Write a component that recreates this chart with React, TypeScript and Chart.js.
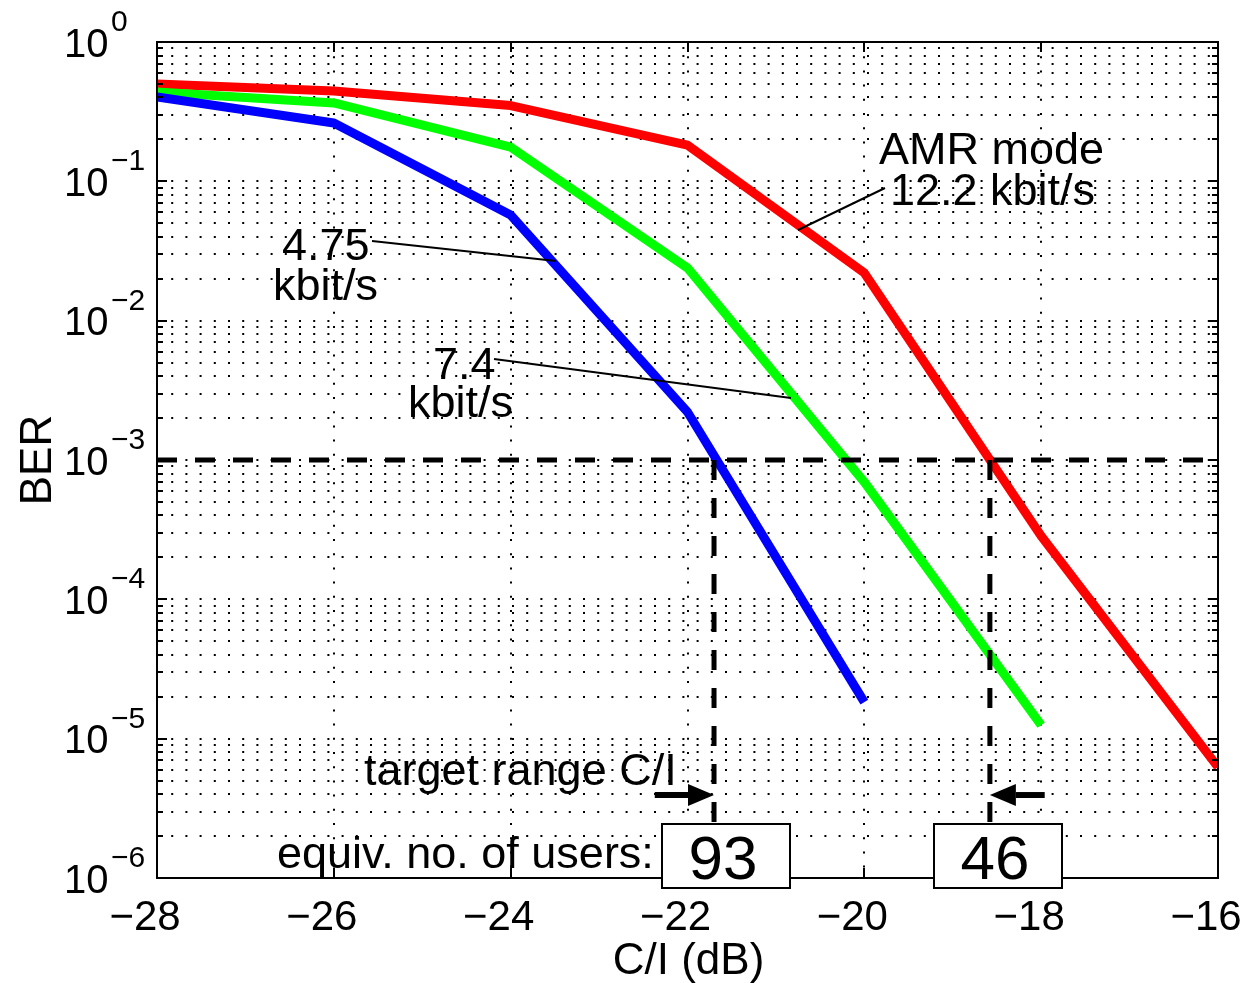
import React, { useEffect, useRef } from 'react';
import { Chart, registerables } from 'chart.js';

Chart.register(...registerables);

const FONT = '"Liberation Sans", Arial, Helvetica, sans-serif';

// ---- axes ----
const xTickValues = [-28, -26, -24, -22, -20, -18, -16];
const xTickLabels = ['−28', '−26', '−24', '−22', '−20', '−18', '−16'];
const yDecadeValues = [1, 1e-1, 1e-2, 1e-3, 1e-4, 1e-5, 1e-6];
const yTickExponents = ['0', '−1', '−2', '−3', '−4', '−5', '−6'];
const yMinorMultipliers = [2, 3, 4, 5, 6, 7, 8, 9];
const xTitle = 'C/I (dB)';
const yTitle = 'BER';

// ---- series (C/I in dB, BER) ----
const ci122 = [-28, -26, -24, -22, -20, -18, -16];
const ber122 = [0.5, 0.445, 0.35, 0.182, 0.022, 2.85e-4, 6.25e-6];
const ci74 = [-28, -26, -24, -22, -20, -18];
const ber74 = [0.438, 0.365, 0.176, 0.0239, 6.95e-4, 1.25e-5];
const ci475 = [-28, -26, -24, -22, -20];
const ber475 = [0.403, 0.262, 0.0573, 2.21e-3, 1.83e-5];

// ---- target markers ----
const targetBER = 1e-3;
const targetCI = [-21.7, -18.58];
const arrowTailCI = [-22.37, -17.96];
const arrowBER = 3.94e-6;
const usersLabels = ['93', '46'];
const usersBoxCI = [
  [-22.29, -20.84],
  [-19.21, -17.77],
];
const usersBoxBER = [2.44e-6, 8.5e-7];

const toXY = (xs: number[], ys: number[]) => xs.map((x, i) => ({ x, y: ys[i] }));

const overlayPlugin = {
  id: 'overlay',
  beforeDatasetsDraw(chart: any) {
    const { ctx, chartArea: a, scales } = chart;
    const xs = scales.x;
    const ys = scales.y;
    ctx.save();
    ctx.strokeStyle = '#000';
    ctx.lineWidth = 2;
    ctx.lineCap = 'butt';
    ctx.setLineDash([2, 12.2]);
    const gridVals: number[] = [];
    for (let i = 0; i < yDecadeValues.length; i++) {
      const d = yDecadeValues[i];
      gridVals.push(d);
      if (d < 1) yMinorMultipliers.forEach((m) => gridVals.push(d * m));
    }
    gridVals.forEach((v) => {
      const py = Math.round(ys.getPixelForValue(v));
      if (py <= a.top + 1 || py >= a.bottom - 1) return;
      ctx.beginPath();
      ctx.moveTo(a.left, py);
      ctx.lineTo(a.right, py);
      ctx.stroke();
    });
    xTickValues.forEach((v) => {
      const px = Math.round(xs.getPixelForValue(v));
      if (px <= a.left + 1 || px >= a.right - 1) return;
      ctx.beginPath();
      ctx.moveTo(px, a.top);
      ctx.lineTo(px, a.bottom);
      ctx.stroke();
    });
    ctx.restore();
  },
  afterDatasetsDraw(chart: any) {
    const { ctx, chartArea: a, scales } = chart;
    const xs = scales.x;
    const ys = scales.y;
    ctx.save();
    ctx.setLineDash([]);
    ctx.strokeStyle = '#000';
    ctx.fillStyle = '#000';

    // axis box
    ctx.lineWidth = 2;
    ctx.strokeRect(Math.round(a.left), Math.round(a.top), Math.round(a.right - a.left), Math.round(a.bottom - a.top));

    // tick marks
    const majorLen = 10;
    const minorLen = 6;
    ctx.beginPath();
    xTickValues.forEach((v) => {
      const px = Math.round(xs.getPixelForValue(v));
      ctx.moveTo(px, a.bottom);
      ctx.lineTo(px, a.bottom - majorLen);
      ctx.moveTo(px, a.top);
      ctx.lineTo(px, a.top + majorLen);
    });
    yDecadeValues.forEach((d) => {
      const py = Math.round(ys.getPixelForValue(d));
      ctx.moveTo(a.left, py);
      ctx.lineTo(a.left + majorLen, py);
      ctx.moveTo(a.right, py);
      ctx.lineTo(a.right - majorLen, py);
      if (d < 1) {
        yMinorMultipliers.forEach((m) => {
          const pm = Math.round(ys.getPixelForValue(d * m));
          ctx.moveTo(a.left, pm);
          ctx.lineTo(a.left + minorLen, pm);
          ctx.moveTo(a.right, pm);
          ctx.lineTo(a.right - minorLen, pm);
        });
      }
    });
    ctx.stroke();

    // x tick labels
    ctx.font = `42px ${FONT}`;
    ctx.textAlign = 'center';
    ctx.textBaseline = 'alphabetic';
    xTickValues.forEach((v, i) => {
      const px = xs.getPixelForValue(v);
      ctx.fillText(xTickLabels[i], px - 12, a.bottom + 52);
    });

    // y tick labels: 10^exp
    yDecadeValues.forEach((d, i) => {
      const py = ys.getPixelForValue(d);
      ctx.textAlign = 'left';
      ctx.font = `40px ${FONT}`;
      ctx.fillText('10', a.left - 93, py + 14.5);
      ctx.font = `30px ${FONT}`;
      ctx.fillText(yTickExponents[i], a.left - 46, py - 11);
    });

    // axis titles
    ctx.font = `44px ${FONT}`;
    ctx.textAlign = 'center';
    ctx.fillText(xTitle, (a.left + a.right) / 2 + 1, a.bottom + 96);
    ctx.save();
    ctx.translate(a.left - 106, (a.top + a.bottom) / 2);
    ctx.rotate(-Math.PI / 2);
    ctx.fillText(yTitle, 0, 0);
    ctx.restore();

    // curve labels and leader lines
    ctx.textAlign = 'left';
    ctx.font = `45px ${FONT}`;
    ctx.fillText('AMR mode', 879, 164);
    ctx.fillText('12.2 kbit/s', 890, 205);
    ctx.fillText('4.75', 282, 260);
    ctx.fillText('kbit/s', 273, 300);
    ctx.fillText('7.4', 433, 379);
    ctx.fillText('kbit/s', 408, 417);
    ctx.lineWidth = 2;
    ctx.beginPath();
    ctx.moveTo(885, 188);
    ctx.lineTo(798, 230);
    ctx.moveTo(372, 241);
    ctx.lineTo(556, 261);
    ctx.moveTo(494, 359);
    ctx.lineTo(791, 398);
    ctx.stroke();

    // target range text
    ctx.fillText('target range C/I', 364, 785);
    ctx.fillText('equiv. no. of users:', 277, 868);

    // arrows
    const ay = ys.getPixelForValue(arrowBER);
    targetCI.forEach((tc, i) => {
      const tip = xs.getPixelForValue(tc);
      const tail = xs.getPixelForValue(arrowTailCI[i]);
      const dir = tip > tail ? 1 : -1;
      const headLen = 26;
      const base = tip - dir * headLen;
      ctx.lineWidth = 6;
      ctx.beginPath();
      ctx.moveTo(tail, ay);
      ctx.lineTo(base, ay);
      ctx.stroke();
      ctx.beginPath();
      ctx.moveTo(tip, ay);
      ctx.lineTo(base, ay - 11);
      ctx.lineTo(base, ay + 11);
      ctx.closePath();
      ctx.fill();
    });

    // user count boxes
    usersLabels.forEach((lab, i) => {
      const x0 = Math.round(xs.getPixelForValue(usersBoxCI[i][0]));
      const x1 = Math.round(xs.getPixelForValue(usersBoxCI[i][1]));
      const y0 = Math.round(ys.getPixelForValue(usersBoxBER[0]));
      const y1 = Math.round(ys.getPixelForValue(usersBoxBER[1]));
      ctx.fillStyle = '#fff';
      ctx.fillRect(x0, y0, x1 - x0, y1 - y0);
      ctx.lineWidth = 2;
      ctx.strokeStyle = '#000';
      ctx.strokeRect(x0, y0, x1 - x0, y1 - y0);
      ctx.fillStyle = '#000';
      ctx.font = `62px ${FONT}`;
      ctx.textAlign = 'center';
      ctx.fillText(lab, (x0 + x1) / 2 - 3, y1 - 9);
    });

    ctx.restore();
  },
};

export default function App() {
  const canvasRef = useRef<HTMLCanvasElement | null>(null);

  useEffect(() => {
    if (!canvasRef.current) return;
    const dashStyle = {
      borderColor: '#000',
      borderWidth: 5,
      borderDash: [20, 18],
      borderCapStyle: 'butt' as const,
      pointRadius: 0,
      fill: false,
    };
    const curveStyle = {
      borderWidth: 9,
      borderCapStyle: 'butt' as const,
      borderJoinStyle: 'round' as const,
      pointRadius: 0,
      fill: false,
      tension: 0,
    };
    const chart = new Chart(canvasRef.current, {
      type: 'line',
      data: {
        datasets: [
          { ...dashStyle, label: 'target', data: [{ x: -28, y: targetBER }, { x: -16, y: targetBER }] },
          { ...dashStyle, label: 'v1', data: [{ x: targetCI[0], y: targetBER }, { x: targetCI[0], y: 1e-6 }] },
          { ...dashStyle, label: 'v2', data: [{ x: targetCI[1], y: targetBER }, { x: targetCI[1], y: 1e-6 }] },
          { ...curveStyle, label: '4.75 kbit/s', borderColor: '#0000ff', data: toXY(ci475, ber475) },
          { ...curveStyle, label: '7.4 kbit/s', borderColor: '#00ff00', data: toXY(ci74, ber74) },
          { ...curveStyle, label: '12.2 kbit/s', borderColor: '#ff0000', data: toXY(ci122, ber122) },
        ],
      },
      options: {
        animation: false,
        responsive: true,
        maintainAspectRatio: false,
        layout: { padding: { left: 157, top: 42, right: 29, bottom: 105 } },
        scales: {
          x: { type: 'linear', min: -28, max: -16, display: false },
          y: { type: 'logarithmic', min: 1e-6, max: 1, display: false },
        },
        plugins: {
          legend: { display: false },
          tooltip: { enabled: false },
        },
        events: [],
      },
      plugins: [overlayPlugin],
    });
    return () => chart.destroy();
  }, []);

  return (
    <div style={{ position: 'absolute', left: 0, top: 0, width: 1247, height: 983, background: '#fff' }}>
      <canvas ref={canvasRef} />
    </div>
  );
}
